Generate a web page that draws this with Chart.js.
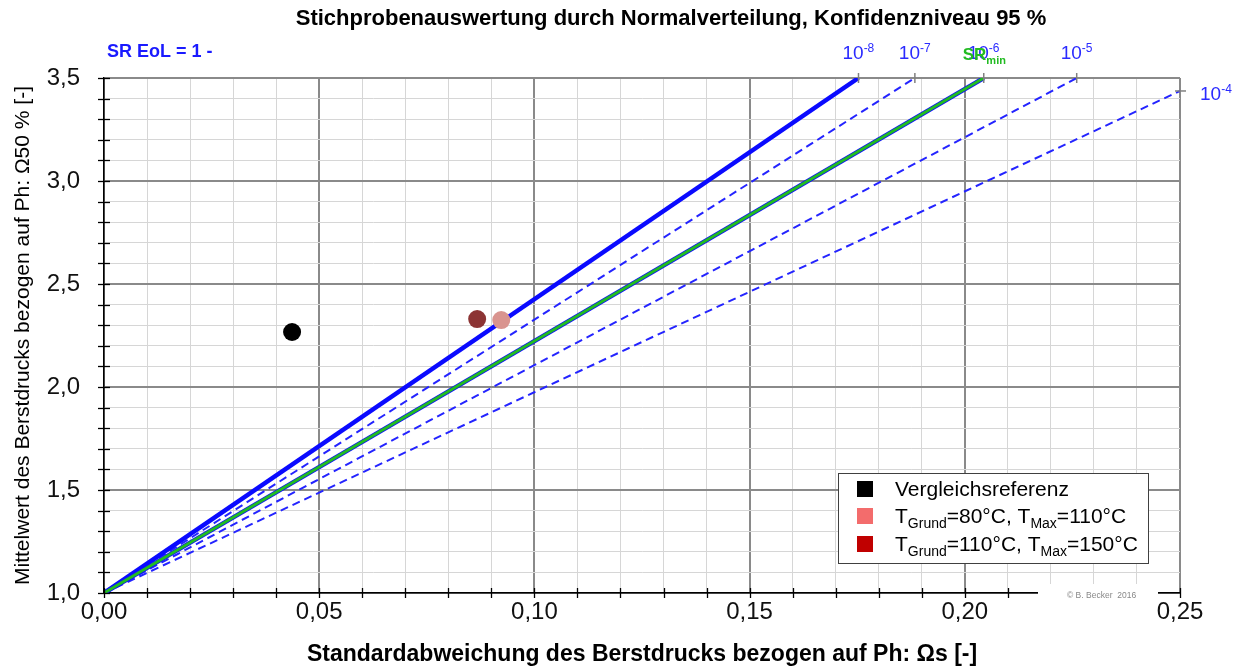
<!DOCTYPE html>
<html><head><meta charset="utf-8">
<script src="https://cdn.jsdelivr.net/npm/chart.js@4.4.1/dist/chart.umd.min.js"></script>
<style>html,body{margin:0;padding:0;background:#fff;}#wrap{width:1245px;height:668px;position:relative;}</style>
</head><body><div id="wrap"><canvas id="c" width="1245" height="668"></canvas></div>
<script>
// ---- data ----
const origin = [0.0, 1.0];
const srExponents = ['-8', '-7', '-6', '-5', '-4'];
const srLineEndX = [0.1753, 0.1884, 0.2044, 0.2260, 0.25];
const srLineEndY = [3.5, 3.5, 3.5, 3.5, 3.437];
const srLineSolid = [true, false, true, false, false];
const srMinEnd = [0.2044, 3.5];
const seriesNames = ['Vergleichsreferenz', 'T_Grund=80°C, T_Max=110°C', 'T_Grund=110°C, T_Max=150°C'];
const pointX = [0.0437, 0.0923, 0.0867];
const pointY = [2.267, 2.325, 2.330];
const titleText = 'Stichprobenauswertung durch Normalverteilung, Konfidenzniveau 95 %';
const xTitle = 'Standardabweichung des Berstdrucks bezogen auf Ph: Ωs [-]';
const yTitle = 'Mittelwert des Berstdrucks bezogen auf Ph: Ω50 % [-]';
const eolLabel = 'SR EoL = 1 -';
const copyright = '© B. Becker  2016';

const FONT = "'Liberation Sans', Arial, sans-serif";
const BLUE = '#0a0aff';
const GREEN = '#22bb22';
const pointColors = ['#000000', '#d9948f', '#8c3434'];
const legendColors = ['#000000', '#f36c6c', '#c00000'];

const datasets = [];
seriesNames.forEach((n, i) => {
  datasets.push({
    label: n, type: 'scatter', data: [{x: pointX[i], y: pointY[i]}],
    backgroundColor: pointColors[i], borderColor: pointColors[i],
    pointRadius: 9, pointHoverRadius: 9, borderWidth: 0, order: 0
  });
});
datasets.push({
  label: 'SRmin', data: [{x: origin[0], y: origin[1]}, {x: srMinEnd[0], y: srMinEnd[1]}],
  showLine: true, borderColor: GREEN, borderWidth: 3, pointRadius: 0, order: 1
});
srExponents.forEach((e, i) => {
  datasets.push({
    label: '10' + e, data: [{x: origin[0], y: origin[1]}, {x: srLineEndX[i], y: srLineEndY[i]}],
    showLine: true, borderColor: srLineSolid[i] ? BLUE : '#2424ff', borderWidth: srLineSolid[i] ? 4.5 : 2,
    borderDash: srLineSolid[i] ? [] : [8, 5], pointRadius: 0, order: 2
  });
});

function isMult(v, step) { return Math.abs(v / step - Math.round(v / step)) < 1e-6; }

const overlay = {
  id: 'overlay',
  afterDraw(chart) {
    const ctx = chart.ctx, xs = chart.scales.x, ys = chart.scales.y, a = chart.chartArea;
    ctx.save();
    // crossing tick marks
    ctx.strokeStyle = '#000'; ctx.lineWidth = 1.3;
    for (let v = 0; v <= 0.2501; v += 0.01) {
      const px = Math.round(xs.getPixelForValue(v)) + 0.5;
      ctx.beginPath(); ctx.moveTo(px, a.bottom - 5); ctx.lineTo(px, a.bottom + 5); ctx.stroke();
    }
    for (let v = 1; v <= 3.501; v += 0.1) {
      const py = Math.round(ys.getPixelForValue(v)) + 0.5;
      ctx.beginPath(); ctx.moveTo(a.left - 6, py); ctx.lineTo(a.left + 6, py); ctx.stroke();
    }
    // small ticks where SR lines meet the frame
    ctx.strokeStyle = '#808080'; ctx.lineWidth = 1.5;
    srExponents.forEach((e, i) => {
      const px = xs.getPixelForValue(srLineEndX[i]);
      const py = ys.getPixelForValue(Math.min(srLineEndY[i], 3.5));
      ctx.beginPath();
      if (srLineEndY[i] >= 3.5) { ctx.moveTo(px, py - 5); ctx.lineTo(px, py + 5); }
      else { ctx.moveTo(a.right - 5, py); ctx.lineTo(a.right + 6, py); }
      ctx.stroke();
    });
    // SR labels
    ctx.fillStyle = '#2a2aff'; ctx.textBaseline = 'alphabetic'; ctx.textAlign = 'left';
    srExponents.forEach((e, i) => {
      const px = xs.getPixelForValue(srLineEndX[i]);
      let lx, ly;
      if (srLineEndY[i] >= 3.5) { lx = px - 16; ly = ys.getPixelForValue(3.5) - 19; }
      else { lx = a.right + 20; ly = ys.getPixelForValue(srLineEndY[i]) + 9; }
      ctx.font = '19px ' + FONT; ctx.fillText('10', lx, ly);
      const w = ctx.measureText('10').width;
      ctx.font = '12px ' + FONT; ctx.fillText(e, lx + w, ly - 7);
    });
    // SRmin label
    {
      const px = xs.getPixelForValue(srMinEnd[0]);
      const ly = ys.getPixelForValue(srMinEnd[1]) - 18;
      ctx.fillStyle = GREEN;
      ctx.font = 'bold 17px ' + FONT; ctx.fillText('SR', px - 21, ly);
      const w = ctx.measureText('SR').width;
      ctx.font = 'bold 11px ' + FONT; ctx.fillText('min', px - 21 + w, ly + 4);
    }
    // EoL label
    ctx.fillStyle = '#1a1aff'; ctx.font = 'bold 18px ' + FONT;
    ctx.fillText(eolLabel, a.left + 3, 57);
    // copyright box
    ctx.fillStyle = '#fff';
    ctx.fillRect(1038, 584, 120, 20);
    ctx.fillStyle = '#888'; ctx.font = '8.5px ' + FONT; ctx.textAlign = 'left';
    ctx.fillText(copyright, 1067, 598);
    // legend
    const lx = 838, ly = 473, lw = 310, lh = 90;
    ctx.fillStyle = '#fff'; ctx.fillRect(lx, ly, lw, lh);
    ctx.strokeStyle = '#404040'; ctx.lineWidth = 1;
    ctx.strokeRect(lx + 0.5, ly + 0.5, lw, lh);
    const rows = [489, 516, 544];
    seriesNames.forEach((n, i) => {
      ctx.fillStyle = legendColors[i];
      ctx.fillRect(857, rows[i] - 8, 16, 16);
      ctx.fillStyle = '#000';
      let x = 895; const base = rows[i] + 7;
      const parts = n.split(/(_[A-Za-z]+)/).filter(s => s.length);
      parts.forEach(p => {
        if (p.startsWith('_')) {
          ctx.font = '14px ' + FONT; ctx.fillText(p.slice(1), x, base + 5);
          x += ctx.measureText(p.slice(1)).width;
        } else {
          ctx.font = '21px ' + FONT; ctx.fillText(p, x, base);
          x += ctx.measureText(p).width;
        }
      });
    });
    ctx.restore();
  }
};

new Chart(document.getElementById('c'), {
  type: 'scatter',
  data: { datasets },
  options: {
    responsive: false, animation: false, devicePixelRatio: 1,
    layout: { padding: { left: 97, right: 0, top: 0, bottom: 0 } },
    plugins: {
      legend: { display: false }, tooltip: { enabled: false },
      title: { display: true, text: titleText, color: '#000',
        font: { family: FONT, size: 22, weight: 'bold' }, padding: { top: 6, bottom: 45.6 } }
    },
    scales: {
      x: {
        type: 'linear', min: 0, max: 0.25,
        afterFit(s) { s.height = 75; },
        ticks: { stepSize: 0.01, autoSkip: false, maxRotation: 0, padding: 5, color: '#111',
          font: { family: FONT, size: 24 },
          callback: v => isMult(v, 0.05) ? v.toFixed(2).replace('.', ',') : '' },
        grid: { drawTicks: false,
          color: c => isMult(c.tick.value, 0.05) ? '#8a8a8a' : '#d6d6d6',
          lineWidth: c => isMult(c.tick.value, 0.05) ? 2 : 1 },
        border: { color: '#000', width: 1.5 },
        title: { display: true, text: xTitle, color: '#000',
          font: { family: FONT, size: 23, weight: 'bold' }, padding: { top: 0, bottom: 0 } }
      },
      y: {
        type: 'linear', min: 1, max: 3.5,
        afterFit(s) { s.width = 7; s._computeLabelArea = function () { return undefined; }; },
        ticks: { stepSize: 0.1, autoSkip: false, padding: 24, color: '#111',
          font: { family: FONT, size: 24 },
          callback: v => isMult(v, 0.5) ? v.toFixed(1).replace('.', ',') : '' },
        grid: { drawTicks: false,
          color: c => isMult(c.tick.value, 0.5) ? '#8a8a8a' : '#d6d6d6',
          lineWidth: c => isMult(c.tick.value, 0.5) ? 2 : 1 },
        border: { color: '#000', width: 1.5 },
        title: { display: true, text: yTitle, color: '#000',
          font: { family: FONT, size: 21 }, padding: { top: -86, bottom: 0 } }
      },
      yRight: {
        type: 'linear', position: 'right', min: 1, max: 3.5, display: true,
        afterFit(s) { s.width = 65; },
        ticks: { display: false }, grid: { display: false, drawTicks: false },
        border: { display: false }, title: { display: false }
      }
    }
  },
  plugins: [overlay]
});
</script></body></html>
